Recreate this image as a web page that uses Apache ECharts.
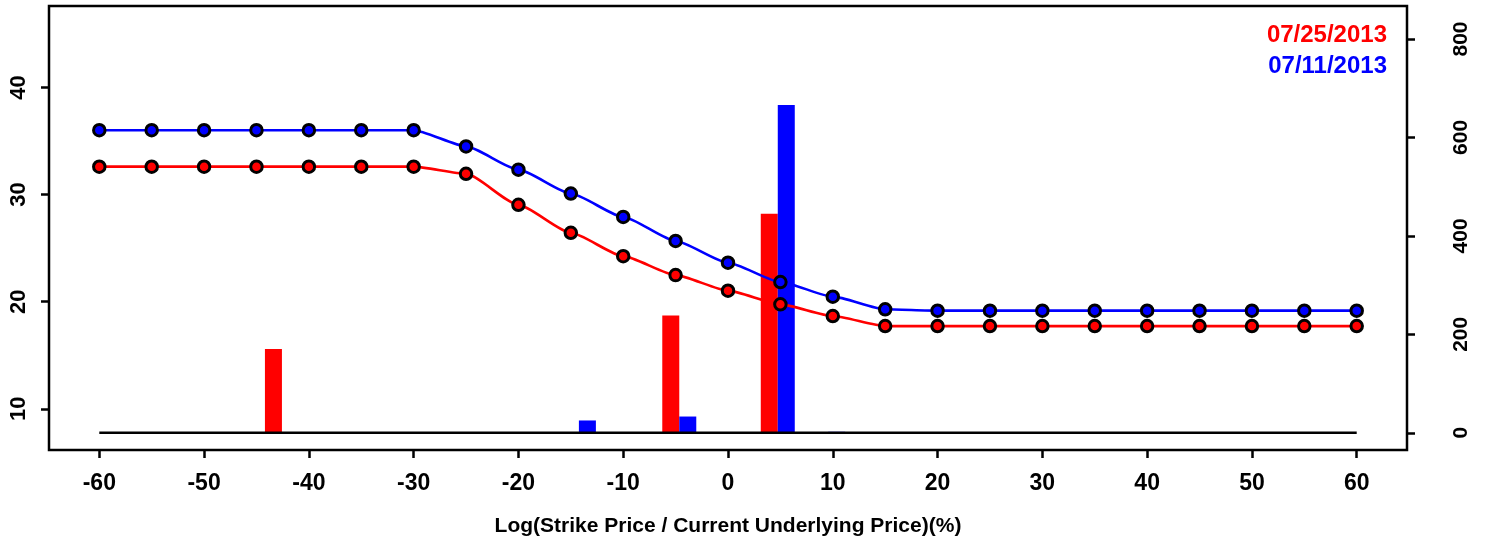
<!DOCTYPE html>
<html>
<head>
<meta charset="utf-8">
<script src="https://cdn.jsdelivr.net/npm/echarts@6/dist/echarts.min.js"></script>
<style>
  html, body { margin: 0; padding: 0; background: #ffffff; }
  #chart { width: 1485px; height: 542px; }
</style>
</head>
<body>
<div id="chart"></div>
<script>
// ---- data ----
const moneyness = [-60, -55, -50, -45, -40, -35, -30, -25, -20, -15, -10, -5, 0, 5, 10, 15, 20, 25, 30, 35, 40, 45, 50, 55, 60];
const vol0725 = [32.61, 32.61, 32.61, 32.61, 32.61, 32.61, 32.61, 31.94, 29.04, 26.43, 24.25, 22.48, 21.03, 19.75, 18.66, 17.72, 17.72, 17.72, 17.72, 17.72, 17.72, 17.72, 17.72, 17.72, 17.72];
const vol0711 = [36.01, 36.01, 36.01, 36.01, 36.01, 36.01, 36.01, 34.50, 32.33, 30.10, 27.91, 25.67, 23.64, 21.83, 20.47, 19.29, 19.16, 19.16, 19.16, 19.16, 19.16, 19.16, 19.16, 19.16, 19.16];
const barPos0725 = [-42.57, -4.65, 4.75];
const barVal0725 = [170, 238, 445];
const barPos0711 = [-14.23, -4.65, 4.75, 9.56];
const barVal0711 = [25, 33, 666, 2];
const zeroLineX = [-60, 60];
const xTicks = [-60, -50, -40, -30, -20, -10, 0, 10, 20, 30, 40, 50, 60];
const leftTicks = [10, 20, 30, 40];
const rightTicks = [0, 200, 400, 600, 800];
const legendLabels = ['07/25/2013', '07/11/2013'];
const xTitle = 'Log(Strike Price / Current Underlying Price)(%)';

// ---- chart ----
const FONT = "'Liberation Sans', Arial, Helvetica, sans-serif";
const RED = '#ff0000', BLUE = '#0000ff', BLACK = '#000000';
const chart = echarts.init(document.getElementById('chart'), null, { renderer: 'canvas' });

const pairs = (xs, ys) => xs.map((x, i) => [x, ys[i]]);

const lineSeries = (name, vals, color) => ({
  name, type: 'line', xAxisIndex: 0, yAxisIndex: 0,
  data: pairs(moneyness, vals),
  smooth: 0.2, smoothMonotone: 'x',
  symbol: 'circle', symbolSize: 11.5, showSymbol: true,
  lineStyle: { color, width: 2.6 },
  itemStyle: { color, borderColor: BLACK, borderWidth: 3 },
  z: 5, silent: true
});

const tickStyle = { show: true, inside: false, length: 8, lineStyle: { color: BLACK, width: 2.5 } };
const noLine = { show: false, onZero: false };

chart.setOption({
  animation: false,
  backgroundColor: '#ffffff',
  grid: { left: 49, right: 78, top: 6, bottom: 91, show: true, borderColor: BLACK, borderWidth: 2.5, backgroundColor: 'transparent' },
  xAxis: {
    type: 'value', min: -64.8, max: 64.8, position: 'bottom',
    axisLine: noLine,
    splitLine: { show: false },
    axisTick: Object.assign({ customValues: xTicks }, tickStyle),
    axisLabel: { customValues: xTicks, margin: 22, color: BLACK, fontFamily: FONT, fontWeight: 'bold', fontSize: 23 },
    name: xTitle, nameLocation: 'middle', nameGap: 66,
    nameTextStyle: { color: BLACK, fontFamily: FONT, fontWeight: 'bold', fontSize: 21 }
  },
  yAxis: [
    {
      type: 'value', position: 'left', min: 6.15, max: 47.61,
      axisLine: noLine, splitLine: { show: false },
      axisTick: Object.assign({ customValues: leftTicks }, tickStyle),
      axisLabel: { customValues: leftTicks, rotate: 90, margin: 19, color: BLACK, fontFamily: FONT, fontWeight: 'bold', fontSize: 22 }
    },
    {
      type: 'value', position: 'right', min: -35, max: 867,
      axisLine: noLine, splitLine: { show: false },
      axisTick: Object.assign({ customValues: rightTicks }, tickStyle),
      axisLabel: { customValues: rightTicks, rotate: 90, margin: 44, color: BLACK, fontFamily: FONT, fontWeight: 'bold', fontSize: 21 }
    }
  ],
  series: [
    {
      name: legendLabels[0] + ' volume', type: 'bar', xAxisIndex: 0, yAxisIndex: 1,
      data: pairs(barPos0725, barVal0725), barWidth: 17, barGap: '0%',
      itemStyle: { color: RED }, z: 2, silent: true
    },
    {
      name: legendLabels[1] + ' volume', type: 'bar', xAxisIndex: 0, yAxisIndex: 1,
      data: pairs(barPos0711, barVal0711), barWidth: 17, barGap: '0%',
      itemStyle: { color: BLUE }, z: 2, silent: true
    },
    {
      name: 'zero', type: 'line', xAxisIndex: 0, yAxisIndex: 1,
      data: zeroLineX.map(x => [x, 0]), showSymbol: false, symbol: 'none',
      lineStyle: { color: BLACK, width: 2.5 }, z: 3, silent: true
    },
    lineSeries(legendLabels[1], vol0711, BLUE),
    lineSeries(legendLabels[0], vol0725, RED)
  ],
  graphic: [
    { type: 'text', right: 98, top: 23, style: { text: legendLabels[0], fill: RED, font: 'bold 24px ' + FONT } },
    { type: 'text', right: 98, top: 54, style: { text: legendLabels[1], fill: BLUE, font: 'bold 24px ' + FONT } }
  ]
});
</script>
</body>
</html>
